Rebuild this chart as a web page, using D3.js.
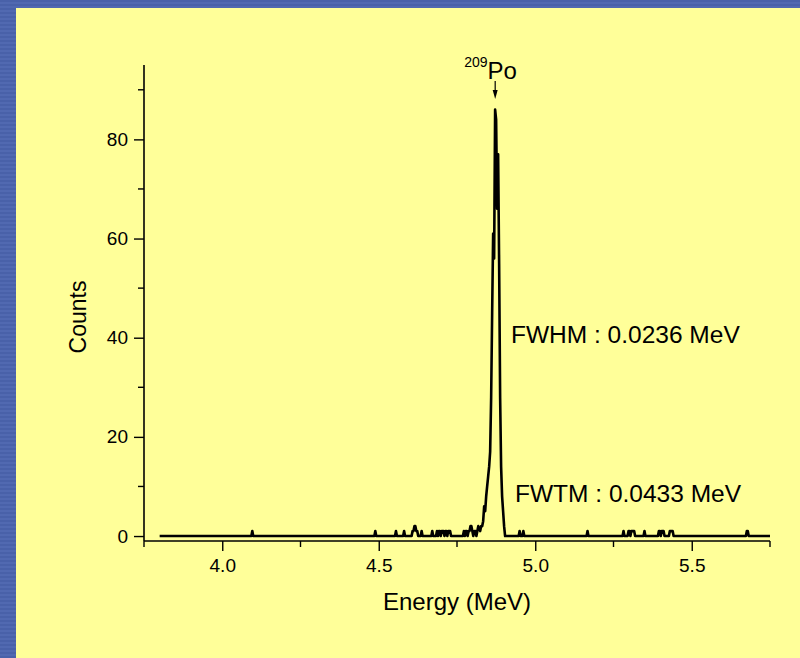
<!DOCTYPE html>
<html>
<head>
<meta charset="utf-8">
<script src="https://cdn.jsdelivr.net/npm/d3@7/dist/d3.min.js"></script>
<style>
  html, body { margin: 0; padding: 0; background: #4a62aa; }
  svg { display: block; }
  text { font-family: "Liberation Sans", Arial, sans-serif; fill: #000; }
</style>
</head>
<body>
<svg id="chart" width="800" height="658"></svg>
<script>
// Alpha spectrum of 209Po: [energy (MeV), counts]
const spectrum = [
  [3.800, 0],
  [4.093, 0], [4.096, 1], [4.099, 0],
  [4.486, 0], [4.489, 1], [4.492, 0],
  [4.552, 0], [4.555, 1], [4.558, 0],
  [4.578, 0], [4.581, 1], [4.584, 0],
  [4.605, 0], [4.608, 1], [4.611, 1], [4.614, 2], [4.617, 2], [4.620, 1], [4.623, 1], [4.626, 0],
  [4.634, 0], [4.637, 1], [4.640, 0],
  [4.668, 0], [4.671, 1], [4.674, 0],
  [4.683, 0], [4.686, 1], [4.689, 0], [4.692, 1], [4.695, 1], [4.698, 0], [4.701, 1], [4.704, 1],
  [4.707, 1], [4.710, 0], [4.713, 1], [4.716, 1], [4.719, 0], [4.722, 1], [4.725, 1], [4.728, 1], [4.731, 0],
  [4.769, 0], [4.772, 1], [4.775, 0], [4.778, 1], [4.781, 1], [4.784, 0], [4.787, 1], [4.790, 1],
  [4.793, 2], [4.796, 2], [4.799, 1], [4.802, 0], [4.806, 1], [4.809, 1], [4.812, 0], [4.815, 1], [4.818, 2],
  [4.8241, 1], [4.8272, 2], [4.8304, 2], [4.8336, 3], [4.8368, 6], [4.8400, 5], [4.8432, 8],
  [4.8463, 10], [4.8495, 12], [4.8527, 14], [4.8559, 17], [4.8591, 28], [4.8623, 45], [4.8655, 61],
  [4.8686, 56], [4.8718, 86], [4.8750, 84], [4.8782, 66], [4.8814, 77], [4.8846, 55], [4.8878, 28],
  [4.8909, 14], [4.8941, 8], [4.8973, 5], [4.9005, 2], [4.9037, 0],
  [4.947, 0], [4.950, 1], [4.953, 0], [4.959, 0], [4.962, 1], [4.965, 0],
  [5.164, 0], [5.167, 1], [5.170, 0],
  [5.279, 0], [5.282, 1], [5.285, 0],
  [5.295, 0], [5.298, 1], [5.301, 1], [5.304, 0], [5.307, 1], [5.310, 1], [5.313, 1], [5.316, 1], [5.319, 0],
  [5.346, 0], [5.349, 1], [5.352, 0],
  [5.392, 0], [5.395, 1], [5.398, 1], [5.401, 0], [5.404, 1], [5.407, 1], [5.410, 1], [5.413, 0],
  [5.427, 0], [5.430, 1], [5.433, 1], [5.436, 1], [5.439, 1], [5.442, 0],
  [5.673, 0], [5.676, 1], [5.679, 1], [5.682, 0],
  [5.750, 0]
];

const xMajorTicks = [4.0, 4.5, 5.0, 5.5];
const xMinorTicks = [3.75, 4.25, 4.75, 5.25, 5.75];
const yMajorTicks = [0, 20, 40, 60, 80];
const yMinorTicks = [10, 30, 50, 70, 90];

const peakLabel = { isotope: "Po", mass: "209", energy: 4.872 };
const fwhmText = "FWHM : 0.0236 MeV";
const fwtmText = "FWTM : 0.0433 MeV";

const svg = d3.select("#chart");

// Striped blue frame and yellow panel
const defs = svg.append("defs");
const pat = defs.append("pattern")
  .attr("id", "stripes").attr("patternUnits", "userSpaceOnUse")
  .attr("width", 8).attr("height", 4);
pat.append("rect").attr("width", 8).attr("height", 4).attr("fill", "#4961a9");
pat.append("rect").attr("y", 2).attr("width", 8).attr("height", 2).attr("fill", "#5169b1");

svg.append("rect").attr("width", 800).attr("height", 658).attr("fill", "url(#stripes)");
svg.append("rect").attr("x", 16).attr("y", 8).attr("width", 784).attr("height", 650).attr("fill", "#ffff99");

const x = d3.scaleLinear().domain([3.75, 5.75]).range([144, 770]);
const y = d3.scaleLinear().domain([-1, 95]).range([541, 65]);

// Axes
const xAxis = svg.append("g").attr("transform", `translate(0,${y(-1)})`);
xAxis.call(d3.axisBottom(x).tickValues(xMajorTicks).tickSize(10).tickPadding(8).tickFormat(d3.format(".1f")));
xAxis.call(g => g.selectAll(".minor").data(xMinorTicks).enter().append("line")
  .attr("class", "minor").attr("x1", d => x(d)).attr("x2", d => x(d)).attr("y1", 0).attr("y2", 6));

const yAxis = svg.append("g").attr("transform", `translate(${x(3.75)},0)`);
yAxis.call(d3.axisLeft(y).tickValues(yMajorTicks).tickSize(10).tickPadding(6));
yAxis.call(g => g.selectAll(".minor").data(yMinorTicks).enter().append("line")
  .attr("class", "minor").attr("y1", d => y(d)).attr("y2", d => y(d)).attr("x1", 0).attr("x2", -6));

svg.selectAll(".domain").remove();
svg.append("line").attr("x1", x(3.75)).attr("x2", x(5.75)).attr("y1", y(-1)).attr("y2", y(-1))
  .attr("stroke", "#000").attr("stroke-width", 1.6);
svg.append("line").attr("x1", x(3.75)).attr("x2", x(3.75)).attr("y1", y(-1)).attr("y2", y(95))
  .attr("stroke", "#000").attr("stroke-width", 1.6);

svg.selectAll(".tick line, .minor").attr("stroke", "#000").attr("stroke-width", 1.4);
svg.selectAll(".tick text").style("font-size", "19px").attr("fill", "#000")
  .style("font-family", '"Liberation Sans", Arial, sans-serif');

// Axis titles
svg.append("text").attr("x", 457).attr("y", 610).attr("text-anchor", "middle")
  .style("font-size", "24px").text("Energy (MeV)");
svg.append("text").attr("transform", "translate(86,317) rotate(-90)").attr("text-anchor", "middle")
  .style("font-size", "23px").text("Counts");

// Spectrum line
const line = d3.line().x(d => x(d[0])).y(d => y(d[1]));
svg.append("path").datum(spectrum).attr("d", line)
  .attr("fill", "none").attr("stroke", "#000").attr("stroke-width", 2.6)
  .attr("stroke-linejoin", "round");

// Peak label with arrow
const px = x(peakLabel.energy);
const lbl = svg.append("text").attr("x", px - 31).attr("y", 79).style("font-size", "24px");
lbl.append("tspan").attr("dy", -12).style("font-size", "14px").text(peakLabel.mass);
lbl.append("tspan").attr("dy", 12).text(peakLabel.isotope);
svg.append("line").attr("x1", px).attr("x2", px).attr("y1", 81).attr("y2", 92)
  .attr("stroke", "#000").attr("stroke-width", 1.2);
svg.append("path").attr("d", d3.line()([[px - 2.5, 90], [px + 2.5, 90], [px, 99]]))
  .attr("fill", "#000");

// Resolution annotations
svg.append("text").attr("x", 511).attr("y", 343).style("font-size", "24.5px").text(fwhmText);
svg.append("text").attr("x", 515).attr("y", 502).style("font-size", "24.5px").text(fwtmText);
</script>
</body>
</html>
